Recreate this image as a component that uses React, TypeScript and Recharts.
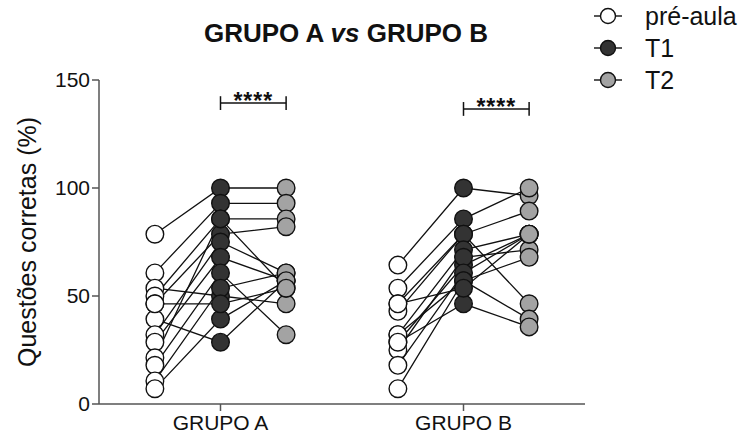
import { ComposedChart, Line, Scatter, XAxis, YAxis, ReferenceLine } from "recharts";

const groups = ["GRUPO A", "GRUPO B"];
const timepoints = ["pré-aula", "T1", "T2"];
const yTicks = [0, 50, 100, 150];

// one entry per student, same index = same student
const preA = [78.6, 60.7, 53.6, 50, 46.4, 39.3, 32.1, 28.6, 21.4, 17.9, 10.7, 7.1, 46.4];
const t1A = [100, 92.9, 50, 85.7, 78.6, 28.6, 75, 67.9, 85.7, 60.7, 53.6, 39.3, 46.4];
const t2A = [100, 92.9, 46.4, 85.7, 82.1, 57.1, 60.7, 57.1, 53.6, 32.1, 60.7, 57.1, 53.6];

const preB = [64.3, 53.6, 46.4, 42.9, 32.1, 28.6, 25, 17.9, 7.1, 32.1, 28.6, 46.4];
const t1B = [100, 85.7, 78.6, 78.6, 71.4, 64.3, 67.9, 60.7, 57.1, 57.1, 46.4, 53.6];
const t2B = [96.4, 100, 89.3, 46.4, 78.6, 78.6, 71.4, 78.6, 67.9, 39.3, 35.7, 78.6];

const significance = ["****", "****"];

const FILLS = ["#ffffff", "#333333", "#a3a3a3"];
const FONT = "'Liberation Sans', Arial, Helvetica, sans-serif";
const OFFSET = 0.27;
const R = 8.8;

type Pt = { x: number; y: number };

function subjects(center: number, pre: number[], t1: number[], t2: number[]): Pt[][] {
  return pre.map((v, i) => [
    { x: center - OFFSET, y: v },
    { x: center, y: t1[i] },
    { x: center + OFFSET, y: t2[i] },
  ]);
}

const lines = [...subjects(1, preA, t1A, t2A), ...subjects(2, preB, t1B, t2B)];
const points = [0, 1, 2].map((k) => lines.map((s) => s[k]));

const Dot = (props: any) => {
  const { cx, cy, fill } = props;
  if (cx == null || cy == null) return null;
  return <circle cx={cx} cy={cy} r={R} fill={fill} stroke="#111" strokeWidth={1.4} />;
};

const YLabel = (props: any) => {
  const { viewBox } = props;
  const x = viewBox.x + 27;
  const y = viewBox.y + viewBox.height / 2;
  return (
    <text x={x} y={y} transform={`rotate(-90, ${x}, ${y})`} textAnchor="middle" dominantBaseline="central" fontSize={25} fontFamily={FONT} fill="#111">
      Questões corretas (%)
    </text>
  );
};

const Stars = (text: string) => (props: any) => {
  const { viewBox } = props;
  const cx = viewBox.x + viewBox.width / 2;
  return (
    <text x={cx} y={viewBox.y + 6} textAnchor="middle" fontSize={23} fontWeight="bold" fontFamily={FONT} fill="#111" letterSpacing={1}>
      {text}
    </text>
  );
};

const brackets = [
  { from: 1, to: 1 + OFFSET, y: 139.3 },
  { from: 2, to: 2 + OFFSET, y: 136.6 },
];

export default function App() {
  return (
    <div style={{ position: "absolute", left: 0, top: 0, width: 745, height: 441, background: "#fff", fontFamily: FONT }}>
      <div style={{ position: "absolute", left: 146, width: 400, top: 18, textAlign: "center", fontSize: 26, fontWeight: "bold", color: "#111", lineHeight: "30px" }}>
        {groups[0]} <i>vs</i> {groups[1]}
      </div>
      <div style={{ position: "absolute", left: 592, top: 0 }}>
        {timepoints.map((name, k) => (
          <div key={name} style={{ display: "flex", alignItems: "center", height: 32, fontSize: 25, color: "#111" }}>
            <svg width={40} height={20} style={{ marginRight: 13 }}>
              <line x1={2} y1={10} x2={30} y2={10} stroke="#111" strokeWidth={1.4} />
              <circle cx={16} cy={10} r={7.5} fill={FILLS[k]} stroke="#111" strokeWidth={1.4} />
            </svg>
            <span>{name}</span>
          </div>
        ))}
      </div>
      <ComposedChart width={745} height={441} margin={{ top: 80, right: 160, bottom: 0, left: 0 }}>
        <XAxis
          type="number"
          dataKey="x"
          domain={[0.5, 2.5]}
          ticks={[1, 2]}
          tickFormatter={(v: number) => groups[v - 1]}
          height={37}
          stroke="#555"
          strokeWidth={1.5}
          tickSize={7}
          tick={{ fontSize: 21, fill: "#111", fontFamily: FONT, dy: 2 }}
          allowDuplicatedCategory={false}
        />
        <YAxis
          type="number"
          dataKey="y"
          domain={[0, 150]}
          ticks={yTicks}
          width={99}
          stroke="#555"
          strokeWidth={1.5}
          tickSize={7}
          tick={{ fontSize: 21, fill: "#111", fontFamily: FONT }}
          label={<YLabel />}
        />
        {lines.map((s, i) => (
          <Line
            key={`s-${i}`}
            data={s}
            dataKey="y"
            stroke="#111"
            strokeWidth={1.3}
            dot={false}
            activeDot={false}
            isAnimationActive={false}
          />
        ))}
        {points.map((pts, k) => (
          <Scatter
            key={`p-${k}`}
            data={pts}
            dataKey="y"
            fill={FILLS[k]}
            shape={<Dot />}
            isAnimationActive={false}
          />
        ))}
        {brackets.map((b, i) => (
          <ReferenceLine
            key={`bh-${i}`}
            segment={[{ x: b.from, y: b.y }, { x: b.to, y: b.y }]}
            stroke="#111"
            strokeWidth={1.5}
            label={Stars(significance[i])}
          />
        ))}
        {brackets.flatMap((b, i) =>
          [b.from, b.to].map((x, j) => (
            <ReferenceLine
              key={`bv-${i}-${j}`}
              segment={[{ x, y: b.y - 3.2 }, { x, y: b.y + 3.2 }]}
              stroke="#111"
              strokeWidth={1.5}
            />
          ))
        )}
      </ComposedChart>
    </div>
  );
}
